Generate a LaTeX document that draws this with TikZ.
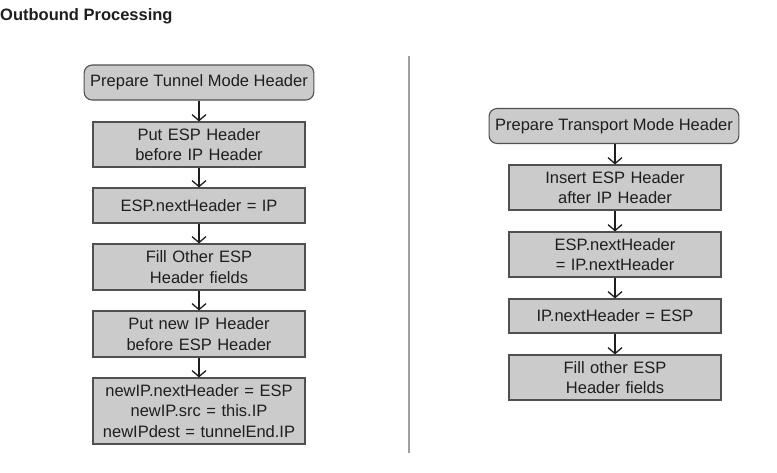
\documentclass[tikz,border=0pt]{standalone}
\usepackage{fontspec}
\setmainfont{Liberation Sans}
\usepackage{xcolor}
\usetikzlibrary{arrows.meta,positioning}

\definecolor{boxfill}{HTML}{CBCBCB}
\definecolor{boxline}{HTML}{505050}
\definecolor{txt}{HTML}{1E1E1E}

\begin{document}
\begin{tikzpicture}[
      x=1pt,y=1pt,
      font=\fontsize{16.5}{20.7}\selectfont,
      >={Straight Barb[length=6pt,width=14pt,line width=1.3pt]},
      stepbox/.style={draw=boxline,line width=1.1pt,fill=boxfill,text=txt,minimum width=212pt,text width=206pt,align=center,inner sep=0pt},
      startbox/.style={stepbox,text width=,rounded corners=8pt,minimum width=0pt,inner xsep=6pt,minimum height=35pt},
      arrow/.style={->,line width=1.3pt,draw=txt}
    ]
      \useasboundingbox (0,0) rectangle (777,-472);

      \node[anchor=base west,inner sep=0pt,font=\fontsize{16.5}{20}\selectfont\bfseries,text=txt] (title) at (0,-20.5) {Outbound Processing};

      % tunnel mode
      \node[startbox] (t0) at (199,-82.5) {Prepare Tunnel Mode Header};
      \node[stepbox,minimum height=45pt] (t1) at (199,-144.5) {Put ESP Header\\before IP Header};
      \node[stepbox,minimum height=35pt] (t2) at (199,-205.5) {ESP.nextHeader = IP};
      \node[stepbox,minimum height=46pt] (t3) at (199,-267) {Fill Other ESP\\Header fields};
      \node[stepbox,minimum height=46pt] (t4) at (199,-334) {Put new IP Header\\before ESP Header};
      \node[stepbox,minimum height=66pt] (t5) at (199,-411) {newIP.nextHeader = ESP\\newIP.src = this.IP\\newIPdest = tunnelEnd.IP};

      % transport mode
      \node[startbox] (p0) at (614,-126) {Prepare Transport Mode Header};
      \node[stepbox,minimum height=45pt] (p1) at (615,-187.5) {Insert ESP Header\\after IP Header};
      \node[stepbox,minimum height=45pt] (p2) at (615,-254.5) {ESP.nextHeader\\= IP.nextHeader};
      \node[stepbox,minimum height=34pt] (p3) at (615,-316) {IP.nextHeader = ESP};
      \node[stepbox,minimum height=45pt] (p4) at (615,-377.5) {Fill other ESP\\Header fields};

      \foreach \a/\b in {t0/t1,t1/t2,t2/t3,t3/t4,t4/t5}
        \draw[arrow] (\a.south -| t1.south) -- (\b.north);
      \foreach \a/\b in {p0/p1,p1/p2,p2/p3,p3/p4}
        \draw[arrow] (\a.south -| p1.south) -- (\b.north);

      % divider
      \coordinate (dtop) at (409,-56);
      \coordinate (dbot) at (409,-453);
      \draw[gray!75,line width=2pt] (dtop) -- (dbot);
    \end{tikzpicture}
\end{document}
